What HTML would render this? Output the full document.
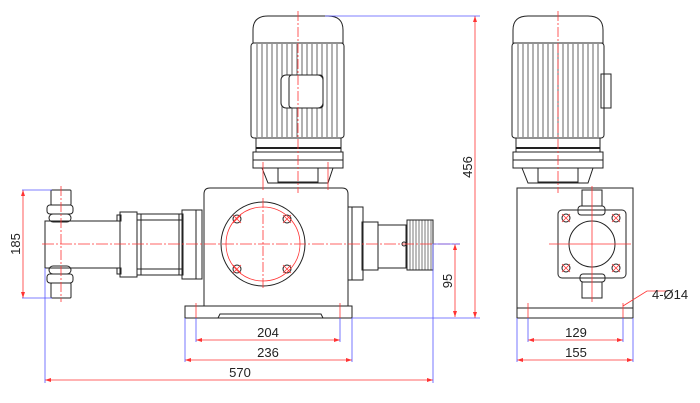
<!DOCTYPE html>
<html><head><meta charset="utf-8"><style>html,body{margin:0;padding:0;background:#fff}svg{display:block}</style></head><body>
<svg width="700" height="403" viewBox="0 0 700 403" xmlns="http://www.w3.org/2000/svg" font-family="Liberation Sans, sans-serif">
<g fill="none" stroke="#222" stroke-width="1">
<!-- FRONT VIEW MOTOR -->
<path d="M253 43 V30 Q253 16 268 16 H328 Q343 16 343 30 V43 Z"/>
<rect x="251" y="43" width="93" height="95" rx="3"/>
<g stroke-width="0.7">
<path d="M257 44V137M262 44V137M267 44V137M272 44V137M277 44V137M282 44V137M287 44V137M292 44V137M297 44V137M302 44V137M307 44V137M312 44V137M317 44V137M322 44V137M327 44V137M332 44V137M337 44V137"/>
</g>
<rect x="281" y="75" width="42" height="33" rx="5" fill="#fff"/>
<rect x="289" y="75" width="34" height="33" rx="3"/>
<rect x="256" y="138" width="85" height="14"/>
<line x1="256" y1="148" x2="341" y2="148" stroke-width="2"/>
<rect x="253" y="152" width="90" height="16"/>
<line x1="253" y1="160" x2="343" y2="160"/>
<path d="M262 168 L268 183 H328 L333 168"/>
<rect x="278" y="168" width="40" height="14"/>
<!-- gearbox -->
<path d="M204 306 V194 Q204 188 210 188 H342 Q348 188 348 194 V306"/>
<path d="M185 306 H352 V318 H185 Z"/>
<path d="M218 318 L220 314 H321 L323 318"/>
<circle cx="263" cy="244" r="42"/>
<circle cx="237" cy="219" r="4"/><circle cx="287" cy="219" r="4"/>
<circle cx="237" cy="269" r="4"/><circle cx="287" cy="269" r="4"/>
<!-- left pump head -->
<rect x="51" y="190" width="20" height="15" rx="1"/>
<rect x="47" y="205" width="26" height="9" rx="3"/>
<rect x="49" y="214" width="22" height="8" rx="4"/>
<rect x="45" y="221" width="75" height="47"/>
<rect x="49" y="266" width="22" height="8" rx="4"/>
<rect x="47" y="274" width="26" height="9" rx="3"/>
<rect x="51" y="283" width="20" height="15" rx="1"/>
<rect x="120" y="212" width="17" height="65"/>
<rect x="117" y="215" width="4" height="6"/><rect x="117" y="268" width="4" height="6"/>
<rect x="137" y="214" width="46" height="61"/>
<line x1="137" y1="220" x2="183" y2="220"/><line x1="137" y1="269" x2="183" y2="269"/>
<line x1="141" y1="214" x2="141" y2="275"/><line x1="179" y1="214" x2="179" y2="275"/>
<rect x="182" y="210" width="20" height="69"/>
<line x1="196" y1="210" x2="196" y2="279"/>
<!-- right side -->
<rect x="348" y="207" width="15" height="73"/>
<line x1="352" y1="207" x2="352" y2="280"/>
<rect x="362" y="222" width="16" height="48"/>
<rect x="378" y="225" width="28" height="43"/>
<rect x="407" y="220" width="26" height="50"/>
<g stroke-width="0.6"><path d="M410 220V270M413 220V270M416 220V270M419 220V270M422 220V270M425 220V270M428 220V270M431 220V270"/></g>
<circle cx="404" cy="244" r="2"/>
<!-- SIDE VIEW -->
<path d="M513 43 V30 Q513 16 528 16 H588 Q603 16 603 30 V43 Z"/>
<rect x="512" y="43" width="92" height="95" rx="3"/>
<g stroke-width="0.7"><path d="M518 44V137M523 44V137M528 44V137M533 44V137M538 44V137M543 44V137M548 44V137M553 44V137M558 44V137M563 44V137M568 44V137M573 44V137M578 44V137M583 44V137M588 44V137M593 44V137M598 44V137"/></g>
<rect x="601" y="74" width="10" height="34"/>
<rect x="516" y="138" width="84" height="14"/>
<line x1="516" y1="148" x2="600" y2="148" stroke-width="2"/>
<rect x="513" y="152" width="90" height="16"/>
<line x1="513" y1="160" x2="603" y2="160"/>
<path d="M522 168 L528 183 H588 L593 168"/>
<rect x="538" y="168" width="40" height="14"/>
<rect x="517" y="188" width="116" height="120"/>
<rect x="517" y="308" width="116" height="10"/>
<rect x="558" y="210" width="68" height="68" rx="4"/>
<circle cx="592" cy="244" r="23"/>
<rect x="582" y="190" width="20" height="16"/>
<rect x="578" y="206" width="27" height="9" rx="3"/>
<rect x="580" y="274" width="25" height="8" rx="3"/>
<rect x="582" y="282" width="20" height="16"/>
<circle cx="566" cy="218" r="4"/><circle cx="616" cy="218" r="4"/>
<circle cx="566" cy="268" r="4"/><circle cx="616" cy="268" r="4"/>
</g>
<!-- red centerlines -->
<g stroke="#f33" stroke-width="0.8" fill="none">
<line x1="298" y1="11" x2="298" y2="193" stroke-dasharray="10 2 2 2"/>
<line x1="558" y1="11" x2="558" y2="193" stroke-dasharray="10 2 2 2"/>
<line x1="42" y1="244" x2="460" y2="244" stroke-dasharray="12 2 2 2"/>
<line x1="61" y1="186" x2="61" y2="302" stroke-dasharray="10 2 2 2"/>
<line x1="263" y1="198" x2="263" y2="290" stroke-dasharray="10 2 2 2"/>
<circle cx="263" cy="244" r="37"/>
<path d="M233 215l8 8M241 215l-8 8M283 215l8 8M291 215l-8 8M233 265l8 8M241 265l-8 8M283 265l8 8M291 265l-8 8"/>
<path d="M562 214l8 8M570 214l-8 8M612 214l8 8M620 214l-8 8M562 264l8 8M570 264l-8 8M612 264l8 8M620 264l-8 8"/>
<line x1="549" y1="244" x2="631" y2="244"/>
<line x1="592" y1="186" x2="592" y2="302"/>
<line x1="528" y1="303" x2="528" y2="318"/><line x1="623" y1="303" x2="623" y2="318"/>
<line x1="196" y1="303" x2="196" y2="318"/><line x1="340" y1="303" x2="340" y2="318"/>
<line x1="263" y1="162" x2="263" y2="190"/><line x1="328" y1="162" x2="328" y2="190"/>
<!-- dims -->
<line x1="23" y1="190" x2="23" y2="298"/>
<line x1="455" y1="244" x2="455" y2="317"/>
<line x1="475" y1="16" x2="475" y2="318"/>
<line x1="196" y1="340" x2="340" y2="340"/>
<line x1="185" y1="360" x2="352" y2="360"/>
<line x1="45" y1="380" x2="433" y2="380"/>
<line x1="528" y1="340" x2="623" y2="340"/>
<line x1="517" y1="360" x2="633" y2="360"/>
<polyline points="623,306 647,291 668,291"/>
</g>
<g fill="#f33">
<path d="M23 190l-2 6h4zM23 298l-2-6h4zM455 244l-2 6h4zM455 317l-2-6h4zM475 16l-2 6h4zM475 318l-2-6h4z"/>
<path d="M196 340l6-2v4zM340 340l-6-2v4zM185 360l6-2v4zM352 360l-6-2v4zM45 380l6-2v4zM433 380l-6-2v4zM528 340l6-2v4zM623 340l-6-2v4zM517 360l6-2v4zM633 360l-6-2v4z"/>
</g>
<!-- blue extension lines -->
<g stroke="#55f" stroke-width="0.8" fill="none">
<line x1="325" y1="16" x2="480" y2="16"/>
<line x1="352" y1="318" x2="480" y2="318"/>
<line x1="433" y1="244" x2="460" y2="244"/>
<line x1="22" y1="190" x2="52" y2="190"/>
<line x1="22" y1="298" x2="52" y2="298"/>
<line x1="45" y1="268" x2="45" y2="383"/>
<line x1="433" y1="244" x2="433" y2="383"/>
<line x1="185" y1="318" x2="185" y2="362"/>
<line x1="352" y1="318" x2="352" y2="362"/>
<line x1="196" y1="318" x2="196" y2="342"/>
<line x1="340" y1="318" x2="340" y2="342"/>
<line x1="517" y1="318" x2="517" y2="362"/>
<line x1="633" y1="318" x2="633" y2="362"/>
<line x1="528" y1="318" x2="528" y2="342"/>
<line x1="623" y1="318" x2="623" y2="342"/>
</g>
<g fill="#222" font-size="13">
<text x="268" y="337" text-anchor="middle">204</text>
<text x="268" y="357" text-anchor="middle">236</text>
<text x="240" y="377" text-anchor="middle">570</text>
<text x="576" y="337" text-anchor="middle">129</text>
<text x="576" y="357" text-anchor="middle">155</text>
<text x="652" y="299">4-Ø14</text>
<text transform="translate(20,244) rotate(-90)" text-anchor="middle">185</text>
<text transform="translate(452,281) rotate(-90)" text-anchor="middle">95</text>
<text transform="translate(472,167) rotate(-90)" text-anchor="middle">456</text>
</g>
</svg>
</body></html>
